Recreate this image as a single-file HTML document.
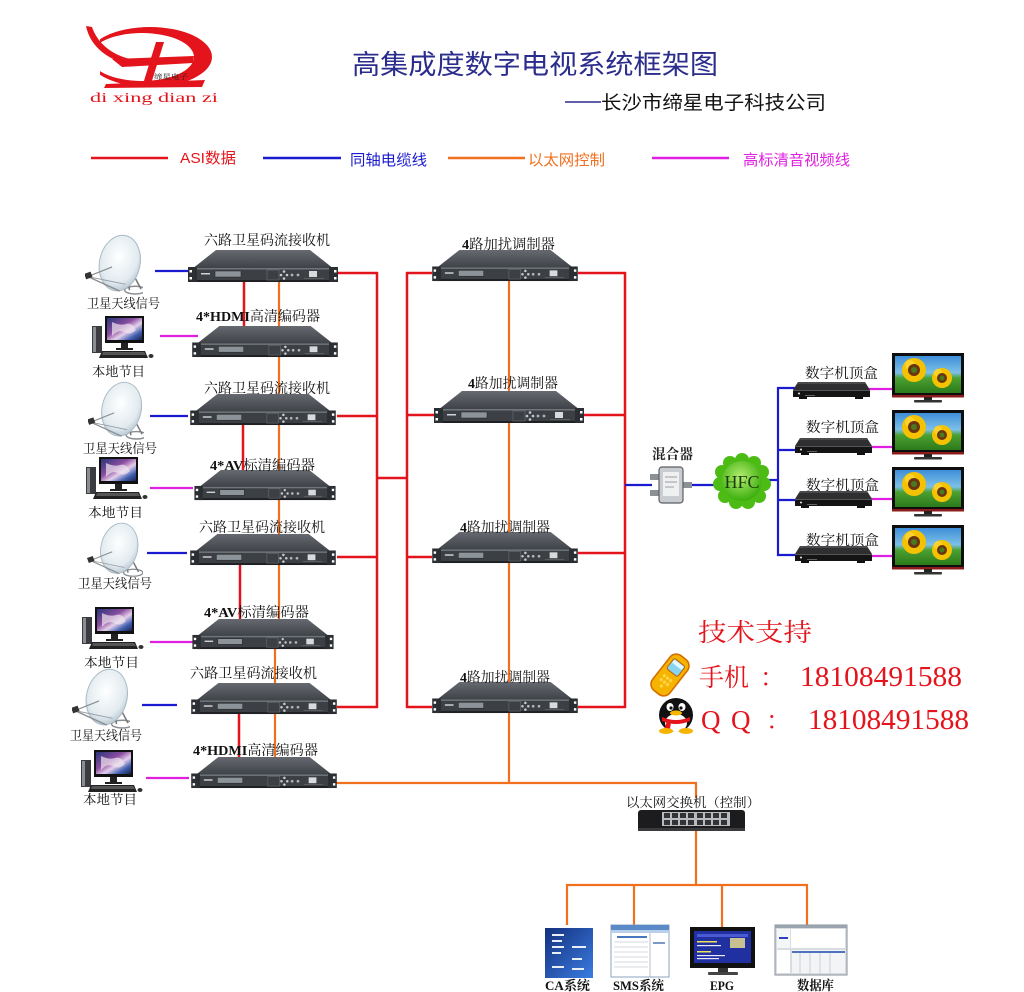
<!DOCTYPE html>
<html><head><meta charset="utf-8"><style>
html,body{margin:0;padding:0;background:#fff;}
svg{display:block;}
.cjk{font-family:"Liberation Serif","Noto Serif CJK SC",serif;}
.sans{font-family:"Liberation Sans","Noto Sans CJK SC",sans-serif;}
</style></head><body>
<svg width="1024" height="992" viewBox="0 0 1024 992" xmlns="http://www.w3.org/2000/svg">
<defs>
<linearGradient id="rt" x1="0" y1="0" x2="0" y2="1"><stop offset="0" stop-color="#666a70"/><stop offset="1" stop-color="#3d4146"/></linearGradient>
<radialGradient id="dishg" cx="0.45" cy="0.4" r="0.65"><stop offset="0" stop-color="#ffffff"/><stop offset="0.7" stop-color="#e2ebf0"/><stop offset="1" stop-color="#b3c3cf"/></radialGradient>
<linearGradient id="scr" x1="0" y1="0" x2="1" y2="1"><stop offset="0" stop-color="#2a3478"/><stop offset="0.4" stop-color="#8a4ea0"/><stop offset="0.6" stop-color="#e6d0ea"/><stop offset="0.8" stop-color="#4060b0"/><stop offset="1" stop-color="#1a2050"/></linearGradient>
<linearGradient id="sky" x1="0" y1="0" x2="0" y2="1"><stop offset="0" stop-color="#3f8fd8"/><stop offset="0.45" stop-color="#7cc0e8"/><stop offset="0.6" stop-color="#4aa030"/><stop offset="1" stop-color="#2c7a1c"/></linearGradient>
<radialGradient id="cloud" cx="0.45" cy="0.4" r="0.6"><stop offset="0" stop-color="#b4ee70"/><stop offset="1" stop-color="#3cae0e"/></radialGradient>
<linearGradient id="cag" x1="0" y1="0" x2="1" y2="1"><stop offset="0" stop-color="#14307e"/><stop offset="1" stop-color="#3a7ce0"/></linearGradient>
<clipPath id="logoclip"><rect x="100" y="20" width="140" height="80"/></clipPath>

<symbol id="rack" viewBox="0 0 150 34">
<polygon points="28,1 122,1 146,20 4,20" fill="url(#rt)"/>
<rect x="5" y="19" width="140" height="13" fill="#3c4045"/>
<rect x="5" y="19" width="140" height="1.5" fill="#70757a"/>
<rect x="5" y="31" width="140" height="2" fill="#1e2024"/>
<rect x="0" y="18" width="9" height="15" fill="#2b2e32"/>
<rect x="141" y="18" width="9" height="15" fill="#2b2e32"/>
<rect x="1.5" y="21" width="2.5" height="2.5" fill="#fff"/>
<rect x="1.5" y="28" width="2.5" height="2.5" fill="#fff"/>
<rect x="146" y="21" width="2.5" height="2.5" fill="#fff"/>
<rect x="146" y="28" width="2.5" height="2.5" fill="#fff"/>
<rect x="13" y="24" width="9" height="1.5" fill="#cfd3d6"/>
<rect x="27" y="22" width="26" height="6" fill="#8c9399" stroke="#222" stroke-width=".5"/>
<rect x="79" y="21" width="12" height="10" fill="none" stroke="#6a6e72" stroke-width=".6"/>
<circle cx="96" cy="22.5" r="1.3" fill="#c8cbce"/>
<circle cx="93" cy="26" r="1.3" fill="#c8cbce"/>
<circle cx="99" cy="26" r="1.3" fill="#c8cbce"/>
<circle cx="96" cy="29.5" r="1.3" fill="#c8cbce"/>
<circle cx="104" cy="26" r="1.4" fill="#b0b4b8"/>
<circle cx="110" cy="26" r="1.4" fill="#b0b4b8"/>
<rect x="121" y="22" width="8" height="6" fill="#d8dadc"/>
<rect x="116" y="29" width="20" height=".8" fill="#666"/>
</symbol>

<symbol id="dish" viewBox="0 0 60 64">
<ellipse cx="52" cy="58" rx="11" ry="4" fill="none" stroke="#8a8e92" stroke-width="1.5"/>
<line x1="44" y1="46" x2="46" y2="58" stroke="#777" stroke-width="1.6"/>
<line x1="50" y1="42" x2="58" y2="57" stroke="#777" stroke-width="1.6"/>
<ellipse cx="36" cy="30" rx="21" ry="29" transform="rotate(12 36 30)" fill="url(#dishg)" stroke="#a9b9c4" stroke-width="1"/>
<line x1="3" y1="44" x2="36" y2="59" stroke="#8a8e92" stroke-width="1.4"/>
<line x1="3" y1="44" x2="28" y2="34" stroke="#8a8e92" stroke-width="1.2"/>
<line x1="3" y1="44" x2="42" y2="52" stroke="#9a9ea2" stroke-width="1"/>
<rect x="0" y="40" width="7" height="6" fill="#333" transform="rotate(-20 3 43)"/>
</symbol>

<symbol id="pc" viewBox="0 0 62 44">
<rect x="0" y="10" width="10" height="27" fill="#3a3c40"/>
<rect x="1" y="11" width="3" height="25" fill="#8a8d92"/>
<rect x="13" y="0" width="39" height="27" fill="#111"/>
<rect x="15" y="2" width="35" height="22" fill="url(#scr)"/>
<path d="M20,6 q8,4 14,2 q6,-2 10,6 q-6,6 -12,2 q-6,-3 -12,4z" fill="#f0e6f0" opacity=".7"/>
<rect x="29" y="27" width="7" height="6" fill="#222"/>
<rect x="24" y="32" width="17" height="2" fill="#222"/>
<polygon points="10,35 53,35 56,42 7,42" fill="#222"/>
<polygon points="11,36 52,36 54,39 10,39" fill="#555"/>
<ellipse cx="59" cy="40" rx="2.5" ry="2" fill="#333"/>
</symbol>

<symbol id="tv" viewBox="0 0 72 50">
<rect x="0" y="0" width="72" height="44" fill="#0e0e0e"/>
<rect x="0" y="42" width="72" height="2.5" fill="#8c1c1c"/>
<rect x="3" y="3" width="66" height="37" fill="url(#sky)"/>
<g fill="#f4c200">
<circle cx="22" cy="17" r="12"/><circle cx="50" cy="25" r="10"/>
</g>
<g fill="#ffd83a" opacity=".8"><circle cx="18" cy="12" r="5"/><circle cx="46" cy="20" r="4"/></g>
<circle cx="22" cy="17" r="6" fill="#6a3410"/>
<circle cx="50" cy="25" r="5" fill="#6a3410"/>
<circle cx="22" cy="17" r="3" fill="#4a7a20"/>
<circle cx="50" cy="25" r="2.5" fill="#4a7a20"/>
<rect x="32" y="44" width="8" height="3" fill="#222"/>
<rect x="22" y="47" width="28" height="2.5" rx="1" fill="#333"/>
</symbol>

<symbol id="stb" viewBox="0 0 77 18">
<polygon points="5,0 72,0 77,8 0,8" fill="#2f2f31"/>
<polygon points="5,0 72,0 73,2 4,2" fill="#4a4a4d"/>
<rect x="0" y="8" width="77" height="7" fill="#141415"/>
<rect x="0" y="8" width="77" height="1" fill="#555"/>
<circle cx="6" cy="11.5" r="1" fill="#eee"/>
<rect x="12" y="13" width="10" height=".8" fill="#777"/>
<rect x="6" y="15" width="8" height="2" fill="#111"/>
<rect x="62" y="15" width="8" height="2" fill="#111"/>
</symbol>
</defs>

<!-- LOGO -->
<g fill="#e4141c">
<path fill-rule="evenodd" d="M150,27 A62,30 0 1 1 150,87 A62,30 0 1 1 150,27 Z M142,33 A52,24 0 1 0 142,81 A52,24 0 1 0 142,33 Z" clip-path="url(#logoclip)"/>
<path d="M86,26 C90,45 105,60 135,66 L138,61 C112,56 98,44 92,27 Z"/>
<polygon points="112,59 194,56 193,63 122,67"/>
<polygon points="156,42 164,42 151,84 143,84"/>
<polygon points="106,84 205,80 202,87 104,88"/>
</g>
<text x="154" y="79" font-size="7" class="cjk" fill="#222" textLength="34" lengthAdjust="spacingAndGlyphs">缔星电子</text>
<text x="90" y="102" font-size="14" font-family="Liberation Serif,serif" fill="#e4141c" textLength="128" lengthAdjust="spacingAndGlyphs">di xing dian zi</text>

<!-- TITLE -->
<text x="352" y="74" font-size="27" class="sans" fill="#2b2d8c" textLength="366" lengthAdjust="spacingAndGlyphs">高集成度数字电视系统框架图</text>
<line x1="565" y1="102" x2="601" y2="102" stroke="#2b2d8c" stroke-width="1.5"/>
<text x="601" y="109" font-size="19" class="sans" fill="#111" textLength="225" lengthAdjust="spacingAndGlyphs">长沙市缔星电子科技公司</text>

<!-- LEGEND -->
<g stroke-width="2.5">
<line x1="91" y1="158" x2="168" y2="158" stroke="#e4141c"/>
<line x1="263" y1="158" x2="341" y2="158" stroke="#1a1ad0"/>
<line x1="448" y1="158" x2="525" y2="158" stroke="#f07020"/>
<line x1="652" y1="158" x2="729" y2="158" stroke="#e020e0"/>
</g>
<text x="180" y="163" font-size="15" class="sans" fill="#e4141c" textLength="56" lengthAdjust="spacingAndGlyphs">ASI数据</text>
<text x="350" y="165" font-size="15" class="sans" fill="#1a1ad0" textLength="77" lengthAdjust="spacingAndGlyphs">同轴电缆线</text>
<text x="528" y="165" font-size="15" class="sans" fill="#f07020" textLength="77" lengthAdjust="spacingAndGlyphs">以太网控制</text>
<text x="743" y="165" font-size="15" class="sans" fill="#e020e0" textLength="107" lengthAdjust="spacingAndGlyphs">高标清音视频线</text>

<!-- LEFT labels -->
<g class="cjk" font-size="13" fill="#111">
<text x="87" y="308" textLength="73" lengthAdjust="spacingAndGlyphs">卫星天线信号</text>
<text x="92" y="376" textLength="53" lengthAdjust="spacingAndGlyphs">本地节目</text>
<text x="83" y="453" textLength="74" lengthAdjust="spacingAndGlyphs">卫星天线信号</text>
<text x="88" y="517" textLength="55" lengthAdjust="spacingAndGlyphs">本地节目</text>
<text x="78" y="588" textLength="74" lengthAdjust="spacingAndGlyphs">卫星天线信号</text>
<text x="84" y="667" textLength="55" lengthAdjust="spacingAndGlyphs">本地节目</text>
<text x="70" y="740" textLength="72" lengthAdjust="spacingAndGlyphs">卫星天线信号</text>
<text x="83" y="804" textLength="54" lengthAdjust="spacingAndGlyphs">本地节目</text>
</g>

<!-- RED lines -->
<g stroke="#e4141c" stroke-width="2.5" fill="none">
<line x1="336" y1="273" x2="378" y2="273"/>
<line x1="337" y1="416" x2="378" y2="416"/>
<line x1="337" y1="557" x2="378" y2="557"/>
<line x1="337" y1="707" x2="378" y2="707"/>
<line x1="377" y1="272" x2="377" y2="708"/>
<line x1="377" y1="478" x2="407" y2="478"/>
<line x1="407" y1="272" x2="407" y2="708"/>
<line x1="406" y1="273" x2="432" y2="273"/>
<line x1="406" y1="415" x2="436" y2="415"/>
<line x1="406" y1="557" x2="432" y2="557"/>
<line x1="406" y1="707" x2="432" y2="707"/>
<line x1="578" y1="273" x2="626" y2="273"/>
<line x1="582" y1="415" x2="626" y2="415"/>
<line x1="578" y1="553" x2="626" y2="553"/>
<line x1="578" y1="707" x2="626" y2="707"/>
<line x1="625" y1="272" x2="625" y2="708"/>
<line x1="244" y1="280" x2="244" y2="326"/>
<line x1="243" y1="424" x2="243" y2="470"/>
<line x1="240" y1="564" x2="240" y2="619"/>
<line x1="239" y1="714" x2="239" y2="760"/>
</g>

<!-- ORANGE lines -->
<g stroke="#f07020" stroke-width="2.2" fill="none">
<line x1="279" y1="280" x2="279" y2="620"/>
<line x1="279" y1="620" x2="275" y2="650"/>
<line x1="275" y1="648" x2="275" y2="760"/>
<line x1="509" y1="280" x2="509" y2="784"/>
<line x1="336" y1="783" x2="697" y2="783"/>
<line x1="696" y1="782" x2="696" y2="798"/>
<line x1="696" y1="828" x2="696" y2="886"/>
<line x1="566" y1="885" x2="808" y2="885"/>
<line x1="567" y1="884" x2="567" y2="925"/>
<line x1="634" y1="884" x2="634" y2="925"/>
<line x1="722" y1="884" x2="722" y2="927"/>
<line x1="807" y1="884" x2="807" y2="925"/>
</g>

<!-- BLUE lines -->
<g stroke="#1a1ad0" stroke-width="2.2" fill="none">
<line x1="155" y1="271" x2="188" y2="271"/>
<line x1="150" y1="416" x2="188" y2="416"/>
<line x1="147" y1="553" x2="187" y2="553"/>
<line x1="142" y1="705" x2="177" y2="705"/>
<line x1="625" y1="485" x2="652" y2="485"/>
<line x1="690" y1="485" x2="722" y2="485"/>
<line x1="764" y1="480" x2="779" y2="480"/>
<line x1="778" y1="387" x2="778" y2="556"/>
<line x1="777" y1="388" x2="797" y2="388"/>
<line x1="777" y1="450" x2="797" y2="450"/>
<line x1="777" y1="500" x2="797" y2="500"/>
<line x1="777" y1="555" x2="797" y2="555"/>
</g>

<!-- PINK lines -->
<g stroke="#e020e0" stroke-width="2.2" fill="none">
<line x1="160" y1="336" x2="198" y2="336"/>
<line x1="150" y1="488" x2="193" y2="488"/>
<line x1="150" y1="642" x2="193" y2="642"/>
<line x1="146" y1="778" x2="189" y2="778"/>
<line x1="864" y1="389" x2="894" y2="389"/>
<line x1="865" y1="447" x2="894" y2="447"/>
<line x1="865" y1="499" x2="894" y2="499"/>
<line x1="865" y1="556" x2="894" y2="556"/>
</g>

<!-- RACK devices -->
<use href="#rack" x="188" y="249" width="150" height="34"/>
<use href="#rack" x="191" y="325" width="148" height="33"/>
<use href="#rack" x="188" y="393" width="150" height="33"/>
<use href="#rack" x="191" y="469" width="148" height="32"/>
<use href="#rack" x="188" y="533" width="150" height="33"/>
<use href="#rack" x="191" y="618" width="144" height="32"/>
<use href="#rack" x="190" y="682" width="148" height="33"/>
<use href="#rack" x="190" y="756" width="148" height="33"/>
<use href="#rack" x="430" y="249" width="150" height="33"/>
<use href="#rack" x="434" y="390" width="150" height="34"/>
<use href="#rack" x="430" y="531" width="150" height="33"/>
<use href="#rack" x="430" y="681" width="150" height="33"/>

<!-- LABELS for racks -->
<g class="cjk" font-size="14" fill="#111">
<text x="204" y="245" textLength="126" lengthAdjust="spacingAndGlyphs">六路卫星码流接收机</text>
<text x="196" y="321" textLength="124" lengthAdjust="spacingAndGlyphs"><tspan font-weight="bold">4*HDMI</tspan>高清编码器</text>
<text x="204" y="393" textLength="126" lengthAdjust="spacingAndGlyphs">六路卫星码流接收机</text>
<text x="210" y="470" textLength="105" lengthAdjust="spacingAndGlyphs"><tspan font-weight="bold">4*AV</tspan>标清编码器</text>
<text x="199" y="532" textLength="126" lengthAdjust="spacingAndGlyphs">六路卫星码流接收机</text>
<text x="204" y="617" textLength="105" lengthAdjust="spacingAndGlyphs"><tspan font-weight="bold">4*AV</tspan>标清编码器</text>
<text x="190" y="678" textLength="127" lengthAdjust="spacingAndGlyphs">六路卫星码流接收机</text>
<text x="193" y="755" textLength="125" lengthAdjust="spacingAndGlyphs"><tspan font-weight="bold">4*HDMI</tspan>高清编码器</text>
<text x="462" y="249" textLength="93" lengthAdjust="spacingAndGlyphs"><tspan font-weight="bold">4</tspan>路加扰调制器</text>
<text x="468" y="388" textLength="90" lengthAdjust="spacingAndGlyphs"><tspan font-weight="bold">4</tspan>路加扰调制器</text>
<text x="460" y="532" textLength="90" lengthAdjust="spacingAndGlyphs"><tspan font-weight="bold">4</tspan>路加扰调制器</text>
<text x="460" y="682" textLength="90" lengthAdjust="spacingAndGlyphs"><tspan font-weight="bold">4</tspan>路加扰调制器</text>
</g>

<!-- dishes -->
<use href="#dish" x="85" y="234" width="58" height="62"/>
<use href="#dish" x="88" y="381" width="56" height="60"/>
<use href="#dish" x="85" y="522" width="58" height="56"/>
<use href="#dish" x="72" y="668" width="58" height="62"/>

<!-- computers -->
<use href="#pc" x="92" y="316" width="62" height="44"/>
<use href="#pc" x="86" y="457" width="62" height="44"/>
<use href="#pc" x="82" y="607" width="62" height="44"/>
<use href="#pc" x="81" y="750" width="62" height="44"/>

<!-- Mixer -->
<text x="652" y="459" font-size="14" class="cjk" font-weight="bold" fill="#222" textLength="41" lengthAdjust="spacingAndGlyphs">混合器</text>
<g>
<rect x="650" y="474" width="10" height="6" fill="#8c9196"/>
<rect x="650" y="490" width="10" height="6" fill="#8c9196"/>
<rect x="682" y="482" width="10" height="6" fill="#8c9196"/>
<rect x="659" y="467" width="24" height="36" rx="3" fill="#c9cdd1" stroke="#5a5e62" stroke-width="1.2"/>
<rect x="663" y="472" width="16" height="24" fill="#eef0f2"/>
<line x1="665" y1="477" x2="677" y2="477" stroke="#888" stroke-width=".8"/>
<line x1="665" y1="482" x2="677" y2="482" stroke="#888" stroke-width=".8"/>
<line x1="665" y1="487" x2="674" y2="487" stroke="#888" stroke-width=".8"/>
</g>

<!-- HFC cloud -->
<g fill="#4cbc14">
<circle cx="742" cy="460" r="7"/><circle cx="754" cy="463" r="7"/><circle cx="762" cy="472" r="7"/>
<circle cx="764" cy="484" r="7"/><circle cx="759" cy="496" r="7"/><circle cx="748" cy="502" r="7"/>
<circle cx="736" cy="502" r="7"/><circle cx="725" cy="496" r="7"/><circle cx="720" cy="484" r="7"/>
<circle cx="722" cy="472" r="7"/><circle cx="730" cy="463" r="7"/>
</g>
<circle cx="742" cy="481" r="20" fill="url(#cloud)"/>
<text x="742" y="488" font-size="18" font-family="Liberation Serif,serif" fill="#1e3a0c" text-anchor="middle">HFC</text>

<!-- STBs and TVs -->
<g class="cjk" font-size="14" fill="#111">
<text x="805" y="378" textLength="73" lengthAdjust="spacingAndGlyphs">数字机顶盒</text>
<text x="806" y="432" textLength="73" lengthAdjust="spacingAndGlyphs">数字机顶盒</text>
<text x="806" y="490" textLength="73" lengthAdjust="spacingAndGlyphs">数字机顶盒</text>
<text x="806" y="545" textLength="73" lengthAdjust="spacingAndGlyphs">数字机顶盒</text>
</g>
<use href="#stb" x="793" y="382" width="77" height="18"/>
<use href="#stb" x="795" y="438" width="77" height="18"/>
<use href="#stb" x="795" y="491" width="77" height="18"/>
<use href="#stb" x="795" y="546" width="77" height="18"/>
<use href="#tv" x="892" y="353" width="72" height="50"/>
<use href="#tv" x="892" y="410" width="72" height="50"/>
<use href="#tv" x="892" y="467" width="72" height="50"/>
<use href="#tv" x="892" y="525" width="72" height="50"/>

<!-- Tech support -->
<g class="cjk" fill="#e4141c">
<text x="698" y="641" font-size="25" textLength="114" lengthAdjust="spacingAndGlyphs">技术支持</text>
<text x="699" y="686" font-size="25">手机</text>
<text x="760" y="686" font-size="25">：</text>
<text x="800" y="686" font-size="28" font-family="Liberation Serif,serif" textLength="162" lengthAdjust="spacingAndGlyphs">18108491588</text>
<text x="701" y="729" font-size="27" font-family="Liberation Serif,serif">Q</text>
<text x="731" y="729" font-size="27" font-family="Liberation Serif,serif">Q</text>
<text x="766" y="729" font-size="25">：</text>
<text x="808" y="729" font-size="28" font-family="Liberation Serif,serif" textLength="161" lengthAdjust="spacingAndGlyphs">18108491588</text>
</g>
<!-- phone -->
<g transform="translate(670,675) rotate(38)">
<rect x="-11" y="-22" width="22" height="44" rx="8" fill="#f6b400" stroke="#d46e00" stroke-width="1.6"/>
<rect x="-7" y="-16" width="14" height="13" rx="2" fill="#86d4f2" stroke="#c06000" stroke-width="1"/>
<rect x="-6" y="-15" width="12" height="4" fill="#e6f8ff"/>
<g fill="#ffd84a"><circle cx="-4" cy="4" r="1.6"/><circle cx="0" cy="4" r="1.6"/><circle cx="4" cy="4" r="1.6"/><circle cx="-4" cy="9" r="1.6"/><circle cx="0" cy="9" r="1.6"/><circle cx="4" cy="9" r="1.6"/><circle cx="0" cy="14" r="1.6"/></g>
</g>
<!-- penguin -->
<g>
<ellipse cx="676" cy="715" rx="17" ry="17" fill="#111"/>
<ellipse cx="676" cy="723" rx="11" ry="9" fill="#fff"/>
<ellipse cx="670" cy="707" rx="3.5" ry="4" fill="#fff"/>
<ellipse cx="682" cy="707" rx="3.5" ry="4" fill="#fff"/>
<circle cx="671" cy="708" r="1.6" fill="#111"/>
<circle cx="681" cy="708" r="1.6" fill="#111"/>
<ellipse cx="676" cy="713" rx="6" ry="2.5" fill="#f5b400"/>
<path d="M662,717 Q676,723 690,717 L690,721 Q676,727 662,721 Z" fill="#e4141c"/>
<path d="M667,721 L664,730 L670,729 L671,722 Z" fill="#e4141c"/>
<ellipse cx="666" cy="731" rx="7" ry="3" fill="#f5b400"/>
<ellipse cx="686" cy="731" rx="7" ry="3" fill="#f5b400"/>
</g>

<!-- Switch -->
<text x="693" y="807" font-size="13" class="cjk" fill="#111" text-anchor="middle" textLength="134" lengthAdjust="spacingAndGlyphs">以太网交换机（控制）</text>
<rect x="638" y="810" width="107" height="21" rx="3" fill="#1c1c1e"/>
<rect x="638" y="828" width="107" height="3" fill="#3a3a3c"/>
<rect x="662" y="812" width="68" height="14" fill="#b8bcc0"/>
<g fill="#333">
<rect x="664" y="813" width="6" height="5"/><rect x="672" y="813" width="6" height="5"/><rect x="680" y="813" width="6" height="5"/><rect x="688" y="813" width="6" height="5"/>
<rect x="697" y="813" width="6" height="5"/><rect x="705" y="813" width="6" height="5"/><rect x="713" y="813" width="6" height="5"/><rect x="721" y="813" width="6" height="5"/>
<rect x="664" y="820" width="6" height="5"/><rect x="672" y="820" width="6" height="5"/><rect x="680" y="820" width="6" height="5"/><rect x="688" y="820" width="6" height="5"/>
<rect x="697" y="820" width="6" height="5"/><rect x="705" y="820" width="6" height="5"/><rect x="713" y="820" width="6" height="5"/><rect x="721" y="820" width="6" height="5"/>
</g>

<!-- CA -->
<rect x="545" y="928" width="48" height="50" fill="url(#cag)"/>
<g fill="#e8eefa">
<rect x="552" y="934" width="12" height="2"/><rect x="552" y="940" width="10" height="2"/><rect x="552" y="946" width="12" height="2"/>
<rect x="552" y="952" width="9" height="2"/><rect x="572" y="946" width="14" height="2"/><rect x="572" y="958" width="10" height="2"/>
<rect x="552" y="966" width="12" height="2"/><rect x="572" y="968" width="12" height="2"/>
</g>
<!-- SMS -->
<rect x="611" y="925" width="58" height="52" fill="#fff" stroke="#8aa4c0" stroke-width="1"/>
<rect x="611" y="925" width="58" height="5" fill="#5a8ac8"/>
<rect x="611" y="930" width="58" height="3" fill="#b8d0ea"/>
<rect x="617" y="936" width="30" height="2" fill="#4a78c0"/>
<line x1="650" y1="933" x2="650" y2="977" stroke="#aab" stroke-width=".8"/>
<g stroke="#c8ccd4" stroke-width=".8">
<line x1="614" y1="942" x2="648" y2="942"/><line x1="614" y1="947" x2="648" y2="947"/><line x1="614" y1="952" x2="648" y2="952"/>
<line x1="614" y1="957" x2="648" y2="957"/><line x1="614" y1="962" x2="648" y2="962"/><line x1="614" y1="967" x2="648" y2="967"/>
</g>
<rect x="653" y="942" width="12" height="2" fill="#7a9ac8"/>
<!-- EPG -->
<rect x="690" y="927" width="65" height="41" fill="#111"/>
<rect x="694" y="931" width="57" height="32" fill="#2030a0"/>
<rect x="697" y="934" width="51" height="3" fill="#4a5ad0"/>
<rect x="730" y="938" width="15" height="10" fill="#c8c090"/>
<g fill="#f0e060"><rect x="697" y="941" width="20" height="1.5"/><rect x="697" y="951" width="14" height="1.5"/></g>
<g fill="#e8e8ff"><rect x="697" y="945" width="24" height="1.2"/><rect x="697" y="955" width="28" height="1.2"/><rect x="697" y="958" width="22" height="1.2"/></g>
<rect x="718" y="968" width="10" height="4" fill="#333"/>
<rect x="708" y="972" width="30" height="3" rx="1" fill="#444"/>
<!-- Database -->
<rect x="775" y="925" width="72" height="50" fill="#d8dde2" stroke="#8a9098" stroke-width="1"/>
<rect x="775" y="925" width="72" height="3" fill="#9aa4b0"/>
<rect x="791" y="929" width="54" height="19" fill="#fff"/>
<rect x="777" y="929" width="13" height="19" fill="#f4f6f8"/>
<rect x="779" y="937" width="9" height="2" fill="#3040c0"/>
<rect x="777" y="950" width="13" height="23" fill="#fff"/>
<rect x="792" y="950" width="53" height="23" fill="#f2f4f6"/>
<rect x="792" y="951" width="53" height="2" fill="#5070c0"/>
<g stroke="#b8bec6" stroke-width=".7">
<line x1="800" y1="953" x2="800" y2="973"/><line x1="810" y1="953" x2="810" y2="973"/><line x1="820" y1="953" x2="820" y2="973"/><line x1="830" y1="953" x2="830" y2="973"/>
</g>

<g class="cjk" font-size="13" font-weight="bold" fill="#111">
<text x="545" y="990" textLength="45" lengthAdjust="spacingAndGlyphs">CA系统</text>
<text x="613" y="990" textLength="51" lengthAdjust="spacingAndGlyphs">SMS系统</text>
<text x="710" y="990" textLength="24" lengthAdjust="spacingAndGlyphs">EPG</text>
<text x="797" y="990" textLength="37" lengthAdjust="spacingAndGlyphs">数据库</text>
</g>
</svg>
</body></html>
